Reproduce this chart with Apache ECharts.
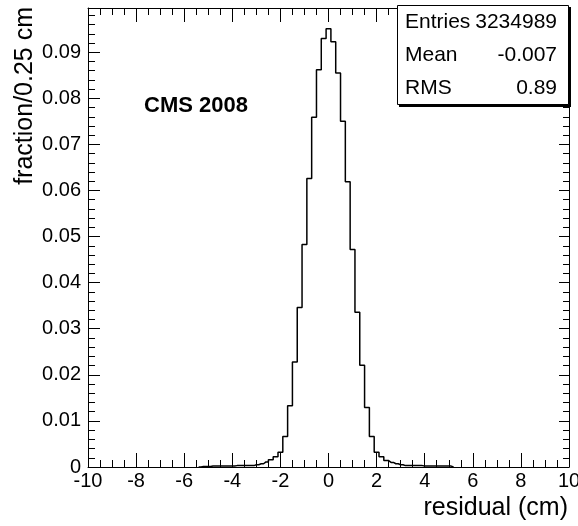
<!DOCTYPE html>
<html>
<head>
<meta charset="utf-8">
<title>residual</title>
<script src="https://cdn.jsdelivr.net/npm/echarts@6/dist/echarts.min.js"></script>
<style>
  html, body { margin: 0; padding: 0; background: #fff; }
  #main { width: 578px; height: 526px; }
</style>
</head>
<body>
<div id="main"></div>
<script>
// bin centres (cm), 0.2 cm wide bins
const binCenters = [-5.4, -5.2, -5.0, -4.8, -4.6, -4.4, -4.2, -4.0, -3.8, -3.6, -3.4, -3.2,
  -3.0, -2.8, -2.6, -2.4, -2.2, -2.0, -1.8, -1.6, -1.4, -1.2, -1.0, -0.8, -0.6, -0.4, -0.2,
  0, 0.2, 0.4, 0.6, 0.8, 1.0, 1.2, 1.4, 1.6, 1.8, 2.0, 2.2, 2.4, 2.6, 2.8, 3.0,
  3.2, 3.4, 3.6, 3.8, 4.0, 4.2, 4.4, 4.6, 4.8, 5.0, 5.2];
// fraction per bin
const fraction = [0, 0.0001, 0.0001, 0.0002, 0.0002, 0.0002, 0.0002, 0.0002, 0.0003, 0.0003, 0.0003, 0.0003,
  0.0005, 0.0007, 0.0011, 0.0016, 0.0022, 0.0032, 0.0066, 0.0133, 0.0228, 0.0346, 0.0483, 0.0626, 0.0759, 0.0862, 0.0930,
  0.0951, 0.0923, 0.0855, 0.0750, 0.0619, 0.0472, 0.0336, 0.0221, 0.0129, 0.0066, 0.0032, 0.0022, 0.0014, 0.0010, 0.0007, 0.0005,
  0.0003, 0.0003, 0.0003, 0.0003, 0.0002, 0.0002, 0.0002, 0.0002, 0.0002, 0.0002, 0];

const xMin = -10, xMax = 10, xStep = 2;
const yMin = 0, yMax = 0.0996, yStep = 0.01;

// stats box rows
const statLabels = ['Entries', 'Mean', 'RMS'];
const statValues = ['3234989', '-0.007', '0.89'];

const FONT = "'Liberation Sans', Arial, sans-serif";

let chart = echarts.init(document.getElementById('main'), null, { renderer: 'canvas' });

let histData = binCenters.map((x, i) => [x, fraction[i]]);

let statTexts = [];
statLabels.forEach((name, i) => {
  let y = 22 + i * 33.3;
  statTexts.push({
    type: 'text', x: 405, y: y, z: 12,
    style: { text: name, font: '21px ' + FONT, fill: '#000', textAlign: 'left', textVerticalAlign: 'middle' }
  });
  statTexts.push({
    type: 'text', x: 557, y: y, z: 12,
    style: { text: statValues[i], font: '21px ' + FONT, fill: '#000', textAlign: 'right', textVerticalAlign: 'middle' }
  });
});

let option = {
  animation: false,
  backgroundColor: '#fff',
  grid: {
    left: 88, right: 9, top: 8, bottom: 59,
    containLabel: false,
    outerBoundsMode: 'none',
    show: false
  },
  xAxis: [{
    type: 'value', min: xMin, max: xMax, interval: xStep, position: 'bottom',
    axisLine: { show: true, onZero: false, lineStyle: { color: '#000', width: 1 } },
    axisTick: { show: true, inside: true, length: 14, lineStyle: { color: '#000' } },
    minorTick: { show: true, splitNumber: 4, length: 7, lineStyle: { color: '#000' } },
    axisLabel: { color: '#000', fontSize: 20, fontFamily: FONT, margin: 4 },
    splitLine: { show: false }
  }, {
    type: 'value', min: xMin, max: xMax, interval: xStep, position: 'top',
    axisLine: { show: true, onZero: false, lineStyle: { color: '#000', width: 1 } },
    axisTick: { show: true, inside: true, length: 14, lineStyle: { color: '#000' } },
    minorTick: { show: true, splitNumber: 4, length: 7, lineStyle: { color: '#000' } },
    axisLabel: { show: false },
    splitLine: { show: false }
  }],
  yAxis: [{
    type: 'value', min: yMin, max: yMax, interval: yStep, position: 'left',
    axisLine: { show: true, onZero: false, lineStyle: { color: '#000', width: 1 } },
    axisTick: { show: true, inside: true, length: 12, lineStyle: { color: '#000' } },
    minorTick: { show: true, splitNumber: 5, length: 7, lineStyle: { color: '#000' } },
    axisLabel: { color: '#000', fontSize: 20, fontFamily: FONT, margin: 7, showMaxLabel: false },
    splitLine: { show: false }
  }, {
    type: 'value', min: yMin, max: yMax, interval: yStep, position: 'right',
    axisLine: { show: true, onZero: false, lineStyle: { color: '#000', width: 1 } },
    axisTick: { show: true, inside: true, length: 10, lineStyle: { color: '#000' } },
    minorTick: { show: true, splitNumber: 5, length: 6, lineStyle: { color: '#000' } },
    axisLabel: { show: false },
    splitLine: { show: false }
  }],
  series: [{
    name: 'residual',
    type: 'line',
    step: 'middle',
    xAxisIndex: 0,
    yAxisIndex: 0,
    symbol: 'none',
    lineStyle: { color: '#000', width: 1.5 },
    data: histData,
    z: 5
  }],
  graphic: [
    // axis titles
    {
      type: 'text', x: 25, y: 7, rotation: Math.PI / 2, z: 10,
      style: { text: 'fraction/0.25 cm', font: '25px ' + FONT, fill: '#000', textAlign: 'right', textVerticalAlign: 'middle' }
    },
    {
      type: 'text', x: 568, y: 508, z: 10,
      style: { text: 'residual (cm)', font: '25px ' + FONT, fill: '#000', textAlign: 'right', textVerticalAlign: 'middle' }
    },
    // label
    {
      type: 'text', x: 144, y: 106, z: 10,
      style: { text: 'CMS 2008', font: 'bold 22px ' + FONT, fill: '#000', textAlign: 'left', textVerticalAlign: 'middle' }
    },
    // stats box with shadow
    {
      type: 'rect', shape: { x: 399, y: 7, width: 172, height: 100 }, z: 10,
      style: { fill: '#000' }
    },
    {
      type: 'rect', shape: { x: 397.5, y: 5.5, width: 171, height: 99 }, z: 11,
      style: { fill: '#fff', stroke: '#000', lineWidth: 1 }
    }
  ].concat(statTexts)
};

chart.setOption(option);
</script>
</body>
</html>
